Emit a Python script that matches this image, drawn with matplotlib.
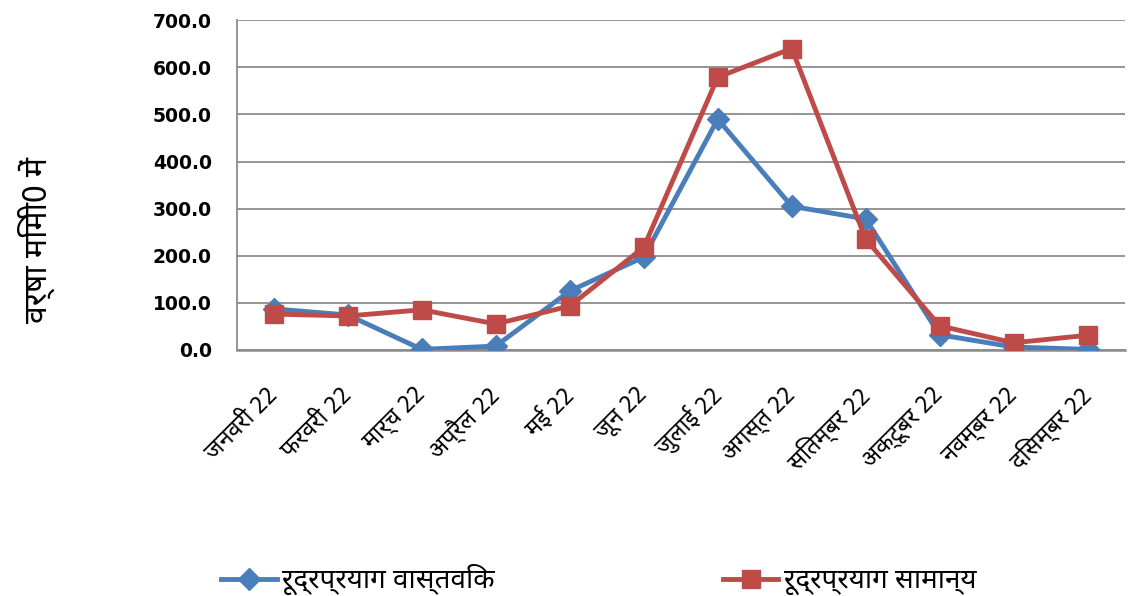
import matplotlib
matplotlib.use("Agg")
import matplotlib.pyplot as plt
from matplotlib import font_manager as fm
from matplotlib.lines import Line2D

# months and rainfall (mm)
months = ["जनवरी 22", "फरवरी 22", "मार्च 22", "अप्रैल 22", "मई 22", "जून 22",
          "जुलाई 22", "अगस्त 22", "सितम्बर 22", "अक्टूबर 22", "नवम्बर 22", "दिसम्बर 22"]
actual = [87, 74, 1, 8, 125, 197, 490, 305, 278, 32, 6, 1]
normal = [76, 72, 85, 55, 93, 218, 579, 640, 235, 51, 15, 31]
yticks = [0, 100, 200, 300, 400, 500, 600, 700]
series_names = ["रूद्रप्रयाग वास्तविक", "रूद्रप्रयाग सामान्य"]
ylabel = "वर्षा मिमी0 में"

# pick a Devanagari capable font
have = set(f.name for f in fm.fontManager.ttflist)
dev = "DejaVu Sans"
for n in ["Noto Sans Devanagari", "Hind", "Mukta", "Ek Mukta", "FreeSans", "Annapurna SIL"]:
    if n in have:
        dev = n
        break
fam = [dev, "DejaVu Sans"]

blue = "#4A7EBB"
red = "#BE4B48"

fig = plt.figure(figsize=(11.28, 5.96), dpi=100)
ax = fig.add_axes([0.210, 0.413, 0.787, 0.553])

x = list(range(len(months)))
ax.plot(x, actual, color=blue, lw=3.5, marker="D", ms=11, mec=blue, mfc=blue, zorder=3)
ax.plot(x, normal, color=red, lw=3.5, marker="s", ms=13, mec=red, mfc=red, zorder=4)

ax.set_xlim(-0.5, len(months) - 0.5)
ax.set_ylim(0, 700)
ax.set_yticks(yticks)
ax.set_yticklabels(["%.1f" % v for v in yticks], fontsize=13.5, fontweight="bold",
                   family="DejaVu Sans")
ax.yaxis.grid(True, color="#8c8c8c", lw=1.3)
ax.set_axisbelow(True)
ax.tick_params(axis="y", length=0, pad=18)
ax.tick_params(axis="x", length=0, pad=30)
ax.set_xticks(x)
ax.set_xticklabels(months, rotation=45, ha="right", va="center",
                   rotation_mode="anchor", fontsize=17, family=fam)
for s in ["top", "right"]:
    ax.spines[s].set_visible(False)
ax.spines["left"].set_color("#8c8c8c")
ax.spines["left"].set_linewidth(1.3)
ax.spines["bottom"].set_color("#8c8c8c")
ax.spines["bottom"].set_linewidth(1.8)

fig.text(0.032, 0.597, ylabel, rotation=90, ha="center", va="center",
         fontsize=23, family=fam)

handles = [Line2D([], [], color=blue, lw=3.5, marker="D", ms=11),
           Line2D([], [], color=red, lw=3.5, marker="s", ms=13)]
fig.legend(handles, series_names, loc="center left", bbox_to_anchor=(0.174, 0.027),
           ncol=2, frameon=False, prop={"family": fam, "size": 20},
           handlelength=2.0, handletextpad=0.2, columnspacing=8.2)

fig.savefig("out.png")
